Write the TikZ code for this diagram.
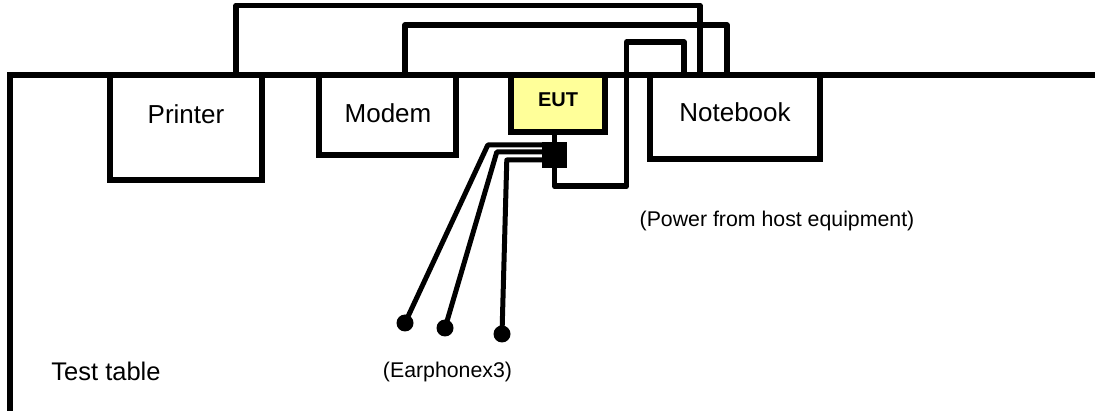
\documentclass[tikz,border=0pt]{standalone}
\usepackage{fontspec}
\setmainfont{Liberation Sans}
\usetikzlibrary{fit}
\definecolor{eutfill}{RGB}{255,255,153}
\tikzset{
  box/.style={draw, line width=6pt, inner sep=0pt},
  eutbox/.style={box, fill=eutfill},
  cable/.style={draw, line width=5.5pt, line join=round},
  thincable/.style={draw, line width=5pt, line join=round},
  table/.style={draw, line width=6pt, line join=miter},
  plug/.style={fill=black, inner sep=0pt},
  dot/.style={circle, fill=black, inner sep=0pt, minimum size=17pt},
  lbl/.style={font=\fontsize{26}{30}\selectfont, inner sep=0pt},
  eutlbl/.style={font=\fontsize{20}{24}\selectfont\bfseries, inner sep=0pt},
  smalllbl/.style={font=\fontsize{21.3}{25}\selectfont, inner sep=0pt},
  tablelbl/.style={font=\fontsize{25.5}{30}\selectfont, inner sep=0pt}
}
\begin{document}
\begin{tikzpicture}[x=1pt,y=-1pt]
\useasboundingbox (0,0) rectangle (1095,411);
% test table
\coordinate (tr) at (1095,75);
\coordinate (tc) at (10,75);
\coordinate (tb) at (10,411);
\draw[table] (tr) -- (tc) -- (tb);
% boxes
\node[box, fit={(110,75) (262,180)}] (printer) {};
\node[box, fit={(319,75) (456,155)}] (modem) {};
\node[eutbox, fit={(511,75) (605,132)}] (eut) {};
\node[box, fit={(650,75) (820,159)}] (notebook) {};
\node[plug, fit={(542,142) (567,168)}] (conn) {};
% labels
\node[lbl] (printerlbl) at (186,114) {Printer};
\node[lbl] (modemlbl) at (388,113) {Modem};
\node[eutlbl] (eutlbl) at (558,100) {EUT};
\node[lbl] (notebooklbl) at (735,112) {Notebook};
\node[smalllbl] (powerlbl) at (777,221) {(Power from host equipment)};
\node[tablelbl] (tablelbl) at (106,371) {Test table};
\node[smalllbl] (earlbl) at (447.5,372) {(Earphonex3)};
% cables
\draw[cable] ([xshift=50pt]printer.north) -- ++(0,-66.5) -| ([xshift=-35pt]notebook.north);
\draw[cable] ([xshift=17.5pt]modem.north) -- ++(0,-47) -| ([xshift=-8pt]notebook.north);
\draw[cable] (conn.south) -- ++(0,18) -- ++(72,0) -- ++(0,-144) -| ([xshift=-51pt]notebook.north);
\draw[thincable] (conn.north) -- (conn.north |- eut.south);
% earphones
\node[dot] (d1) at (405,323) {};
\node[dot] (d2) at (445,328) {};
\node[dot] (d3) at (502,334) {};
\draw[thincable] ([yshift=10pt]conn.west) -- ++(-54,0) -- (d1.center);
\draw[thincable] ([yshift=3pt]conn.west) -- ++(-45,0) -- (d2.center);
\draw[thincable] ([yshift=-5pt]conn.west) -- ++(-35,0) -- (d3.center);
\end{tikzpicture}
\end{document}
